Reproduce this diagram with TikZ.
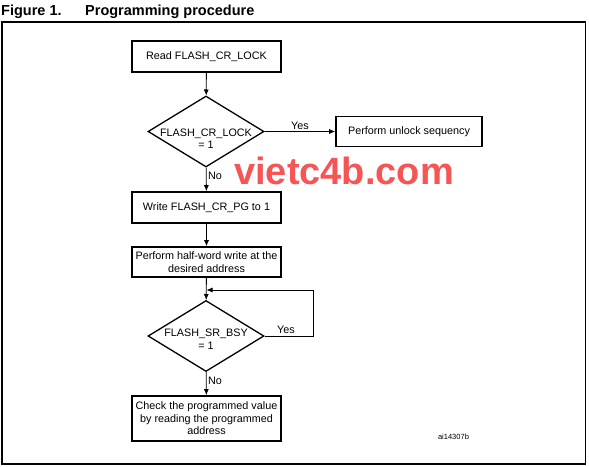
\documentclass[tikz,border=0pt]{standalone}
\usepackage{fontspec}
\setmainfont{Liberation Sans}
\usetikzlibrary{shapes.geometric,arrows.meta}
\definecolor{wmred}{RGB}{245,85,85}
\newcommand{\dtext}[2][-10pt]{\raisebox{#1}[0pt][0pt]{\makebox[0pt]{\begin{tabular}{@{}c@{}}#2\end{tabular}}}}

\begin{document}
\begin{tikzpicture}[x=1pt,y=-1pt,
    font=\fontsize{10.8}{12.5}\selectfont,
    stepbox/.style={draw, line width=1.6pt, minimum width=149pt, minimum height=31pt, align=center, inner sep=2pt},
    decision/.style={draw, diamond, line width=1.3pt, minimum width=116pt, minimum height=71pt, inner sep=0pt},
    arr/.style={line width=0.8pt, -{Latex[length=6pt,width=5pt]}},
    lbl/.style={inner sep=1.5pt}]
    \useasboundingbox (0,0) rectangle (589,466);
    \draw[line width=1.2pt] (2,22) rectangle (585.5,464);
    \node[anchor=base west, inner sep=0, font=\fontsize{14.5}{16}\selectfont\bfseries] (fig) at (1,15) {Figure 1.};
    \node[anchor=base west, inner sep=0, font=\fontsize{14.5}{16}\selectfont\bfseries] (title) at (85,15) {Programming procedure};
    % watermark
    \node[anchor=base west, inner sep=0, text=wmred, font=\fontsize{38}{40}\selectfont\bfseries] (wm) at (234,184) {vietc4b.com};
    % steps
    \node[stepbox] (read) at (206.5,56.5) {Read FLASH\_CR\_LOCK};
    \node[decision] (lock) at (206,131.5) {\dtext[-11pt]{FLASH\_CR\_LOCK\\= 1}};
    \node[stepbox, minimum width=146pt, minimum height=30pt] (unlock) at (409,131.5) {Perform unlock sequency};
    \node[stepbox] (pg) at (206.5,207.5) {Write FLASH\_CR\_PG to 1};
    \node[stepbox, minimum height=30pt] (hw) at (206.5,262) {Perform half-word write at the\\desired address};
    \node[decision] (bsy) at (206,336) {\dtext[-7pt]{FLASH\_SR\_BSY\\= 1}};
    \node[stepbox, minimum height=45pt] (check) at (206.5,418.5) {Check the programmed value\\by reading the programmed\\address};
    \coordinate (loop) at (313,290);
    % connectors
    \draw[arr] (read) -- (lock);
    \draw[arr] (lock) -- node[lbl, above] (yes1) {Yes} (unlock);
    \draw[arr] (lock) -- node[lbl, right, pos=0.35] (no1) {No} (pg);
    \draw[arr] (pg) -- (hw);
    \draw[arr] (hw) -- (bsy);
    \draw[arr] (bsy.east) -| node[lbl, above, pos=0.22] (yes2) {Yes} (loop) -- (hw.south |- loop);
    \draw[arr] (bsy) -- node[lbl, right, pos=0.37] (no2) {No} (check);
    \node[font=\fontsize{7.5}{9}\selectfont] (ref) at (453.5,437) {ai14307b};
\end{tikzpicture}
\end{document}
